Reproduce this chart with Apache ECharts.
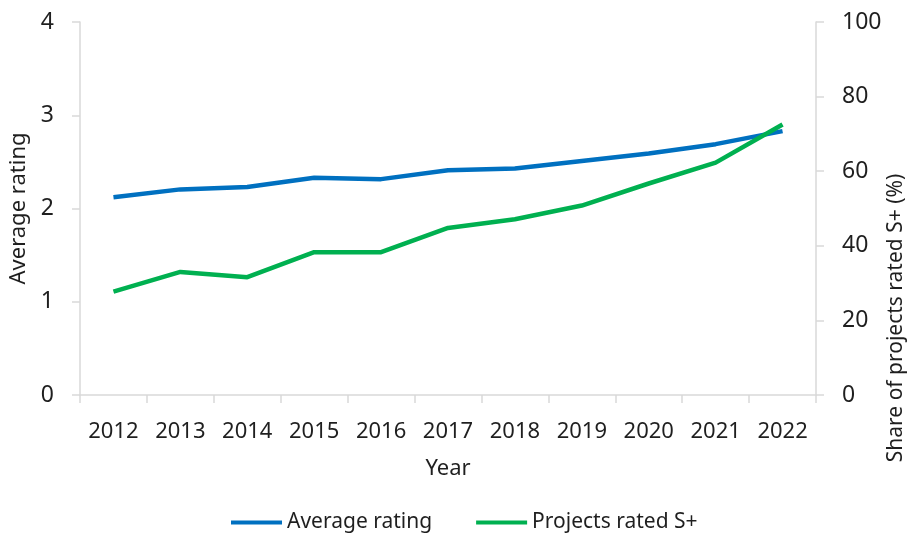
<!DOCTYPE html>
<html><head><meta charset="utf-8">
<script src="https://cdn.jsdelivr.net/npm/echarts@6/dist/echarts.min.js"></script>
<style>html,body{margin:0;padding:0;background:#fff}#c{width:908px;height:541px}</style>
</head><body><div id="c"></div>
<script>
const years = ['2012','2013','2014','2015','2016','2017','2018','2019','2020','2021','2022'];
const avgRating = [2.12, 2.205, 2.23, 2.33, 2.315, 2.41, 2.43, 2.51, 2.59, 2.69, 2.83];
const shareSPlus = [27.7, 33.0, 31.6, 38.3, 38.3, 44.8, 47.1, 50.8, 56.7, 62.3, 72.5];
const leftTicks = [0, 1, 2, 3, 4];
const rightTicks = [0, 20, 40, 60, 80, 100];

const FONT = '"Noto Sans", "Open Sans", sans-serif';
const TXT = '#1f1f1f';
const AX = '#d9d9d9';
const chart = echarts.init(document.getElementById('c'), null, {renderer: 'canvas'});
chart.setOption({
  animation: false,
  textStyle: {fontFamily: FONT},
  grid: {left: 80, right: 92, top: 22, bottom: 146, containLabel: false, outerBoundsMode: 'none'},
  legend: {
    bottom: 3, left: 226,
    itemWidth: 51, itemHeight: 4, itemGap: 44, icon: 'rect',
    textStyle: {fontFamily: FONT, fontSize: 21, color: TXT},
    data: ['Average rating', 'Projects rated S+']
  },
  xAxis: {
    type: 'category', data: years, boundaryGap: true,
    name: 'Year', nameLocation: 'middle', nameGap: 63,
    nameTextStyle: {fontFamily: FONT, fontSize: 22, color: TXT},
    axisLine: {lineStyle: {color: AX, width: 1.5}},
    axisTick: {show: true, alignWithLabel: false, length: 8, lineStyle: {color: AX, width: 1.5}},
    axisLabel: {fontFamily: FONT, fontSize: 22, color: TXT, margin: 26, interval: 0},
    splitLine: {show: false}
  },
  yAxis: [
    {
      type: 'value', min: leftTicks[0], max: leftTicks[leftTicks.length-1], interval: 1,
      name: 'Average rating', nameLocation: 'middle', nameGap: 42, nameRotate: 90,
      nameTextStyle: {fontFamily: FONT, fontSize: 22, color: TXT},
      axisLine: {show: true, lineStyle: {color: AX, width: 1.5}},
      axisTick: {show: true, length: 8, lineStyle: {color: AX, width: 1.5}},
      axisLabel: {fontFamily: FONT, fontSize: 23, color: TXT, margin: 26},
      splitLine: {show: false}
    },
    {
      type: 'value', min: rightTicks[0], max: rightTicks[rightTicks.length-1], interval: 20,
      position: 'right',
      axisLine: {show: true, lineStyle: {color: AX, width: 1.5}},
      axisTick: {show: true, length: 8, lineStyle: {color: AX, width: 1.5}},
      axisLabel: {fontFamily: FONT, fontSize: 23, color: TXT, margin: 26},
      splitLine: {show: false}
    }
  ],
  graphic: [{
    type: 'text', x: 896, y: 318, rotation: Math.PI/2,
    style: {text: 'Share of projects rated S+ (%)', fontFamily: FONT, fontSize: 21, fill: TXT,
      textAlign: 'center', textVerticalAlign: 'middle'}
  }],
  series: [
    {name: 'Average rating', type: 'line', yAxisIndex: 0, data: avgRating,
     symbol: 'none', lineStyle: {color: '#0070C0', width: 4.5}, itemStyle: {color: '#0070C0'}},
    {name: 'Projects rated S+', type: 'line', yAxisIndex: 1, data: shareSPlus,
     symbol: 'none', lineStyle: {color: '#00B050', width: 4.5}, itemStyle: {color: '#00B050'}}
  ]
});
</script></body></html>
